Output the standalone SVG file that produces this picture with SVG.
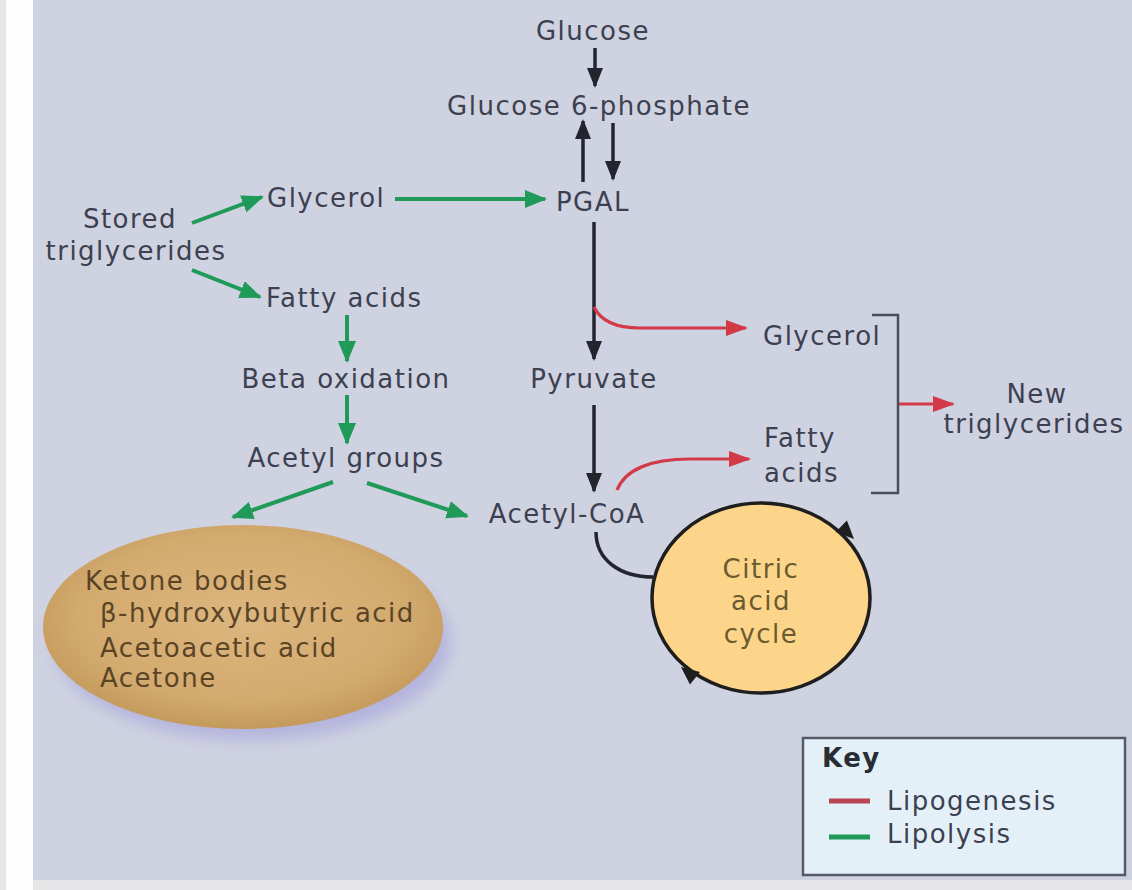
<svg xmlns="http://www.w3.org/2000/svg" width="1132" height="890" viewBox="0 0 1132 890">
<style>
text{font-family:"DejaVu Sans","Liberation Sans",sans-serif;font-size:26px;letter-spacing:1.5px;fill:#3d4050}
.m{text-anchor:middle}
.k{fill:#5a4425}
.c{fill:#6b5a2e}
.blk{fill:none;stroke:#23252e;stroke-width:3.5}
.grn{fill:none;stroke:#1f9a58;stroke-width:4}
.red{fill:none;stroke:#d23a48;stroke-width:3.2}
</style>
<defs>
<marker id="ab" viewBox="0 0 20 16" refX="18" refY="8" markerWidth="20" markerHeight="16" markerUnits="userSpaceOnUse" orient="auto"><path d="M0,0 L20,8 L0,16 Z" fill="#23252e"/></marker>
<marker id="ag" viewBox="0 0 22 18" refX="20" refY="9" markerWidth="22" markerHeight="18" markerUnits="userSpaceOnUse" orient="auto"><path d="M0,0 L22,9 L0,18 Z" fill="#1f9a58"/></marker>
<marker id="ar" viewBox="0 0 22 16" refX="20" refY="8" markerWidth="22" markerHeight="16" markerUnits="userSpaceOnUse" orient="auto"><path d="M0,0 L22,8 L0,16 Z" fill="#d23a48"/></marker>
<radialGradient id="kg" cx="0.5" cy="0.45" r="0.55">
<stop offset="0" stop-color="#dcb67f"/>
<stop offset="0.75" stop-color="#d3aa6e"/>
<stop offset="1" stop-color="#c49a5c"/>
</radialGradient>
<filter id="bl" x="-20%" y="-20%" width="140%" height="140%"><feGaussianBlur stdDeviation="8"/></filter>
</defs>
<rect x="0" y="0" width="1132" height="890" fill="#e6e6e8"/>
<rect x="6" y="0" width="27" height="890" fill="#fefefe"/>
<rect x="33" y="0" width="1099" height="880" fill="#cfd2e1"/>

<g id="connectors">
<path class="blk" d="M595,48 L595,86" marker-end="url(#ab)"/>
<path class="blk" d="M583,182 L583,121" marker-end="url(#ab)"/>
<path class="blk" d="M613,123 L613,179" marker-end="url(#ab)"/>
<path class="blk" d="M594,222 L594,359" marker-end="url(#ab)"/>
<path class="blk" d="M594,405 L594,491" marker-end="url(#ab)"/>
<path class="blk" d="M596,532 C596,560 620,577 653,577"/>
<path class="grn" d="M192,223 L262,197" marker-end="url(#ag)"/>
<path class="grn" d="M192,270 L260,297" marker-end="url(#ag)"/>
<path class="grn" d="M395,199 L545,199" marker-end="url(#ag)"/>
<path class="grn" d="M347,315 L347,361" marker-end="url(#ag)"/>
<path class="grn" d="M347,395 L347,443" marker-end="url(#ag)"/>
<path class="grn" d="M333,482 L233,517" marker-end="url(#ag)"/>
<path class="grn" d="M367,483 L467,516" marker-end="url(#ag)"/>
<path class="red" d="M594,307 Q604,328 640,328 L746,328" marker-end="url(#ar)"/>
<path class="red" d="M617,490 C625,470 650,459 690,459 L749,459" marker-end="url(#ar)"/>
<path class="red" d="M898,404 L953,404" marker-end="url(#ar)"/>
<path d="M872,315 L898,315 L898,493 L871,493" fill="none" stroke="#4a4d5c" stroke-width="2.5"/>
</g>

<g id="glucose"><text class="m" x="593" y="40">Glucose</text></g>
<g id="g6p"><text class="m" x="599" y="115">Glucose 6-phosphate</text></g>
<g id="pgal"><text class="m" x="593" y="211">PGAL</text></g>
<g id="stored"><text class="m" x="130" y="228">Stored</text><text class="m" x="136" y="260">triglycerides</text></g>
<g id="glycerol-left"><text x="267" y="207">Glycerol</text></g>
<g id="fatty-left"><text x="266" y="307">Fatty acids</text></g>
<g id="beta"><text class="m" x="346" y="388">Beta oxidation</text></g>
<g id="acetyl-groups"><text class="m" x="346" y="467">Acetyl groups</text></g>
<g id="pyruvate"><text class="m" x="594" y="388">Pyruvate</text></g>
<g id="acetylcoa"><text class="m" x="567" y="523">Acetyl-CoA</text></g>
<g id="glycerol-right"><text x="763" y="345">Glycerol</text></g>
<g id="fatty-right"><text x="764" y="447">Fatty</text><text x="764" y="482">acids</text></g>
<g id="new-tg"><text class="m" x="1037" y="403">New</text><text class="m" x="1034" y="433">triglycerides</text></g>

<g id="ketone">
<ellipse cx="252" cy="642" rx="198" ry="98" fill="#a9a6dc" opacity="0.7" filter="url(#bl)"/>
<ellipse cx="243" cy="627" rx="200" ry="102" fill="url(#kg)"/>
<text class="k" x="85" y="590">Ketone bodies</text>
<text class="k" x="100" y="622">β-hydroxybutyric acid</text>
<text class="k" x="100" y="657">Acetoacetic acid</text>
<text class="k" x="100" y="687">Acetone</text>
</g>

<g id="citric">
<ellipse cx="761" cy="598" rx="109" ry="95" fill="#fcd58a" stroke="#1e1e1e" stroke-width="3.5"/>
<polygon points="0,0 -18,-8 -18,8" fill="#1e1e1e" transform="translate(854,539) rotate(45)"/>
<polygon points="0,0 -18,-8 -18,8" fill="#1e1e1e" transform="translate(681,667) rotate(219)"/>
<text class="m c" x="761" y="578">Citric</text>
<text class="m c" x="761" y="610">acid</text>
<text class="m c" x="761" y="643">cycle</text>
</g>

<g id="key">
<rect x="803" y="738" width="322" height="137" fill="#e3f0f7" stroke="#555a66" stroke-width="2.5"/>
<text x="822" y="767" style="font-weight:bold;fill:#2a2c34">Key</text>
<line x1="829" y1="801" x2="870" y2="801" stroke="#b84552" stroke-width="5"/>
<text x="887" y="810">Lipogenesis</text>
<line x1="829" y1="837" x2="870" y2="837" stroke="#1f9a5a" stroke-width="5"/>
<text x="887" y="843">Lipolysis</text>
</g>
</svg>
